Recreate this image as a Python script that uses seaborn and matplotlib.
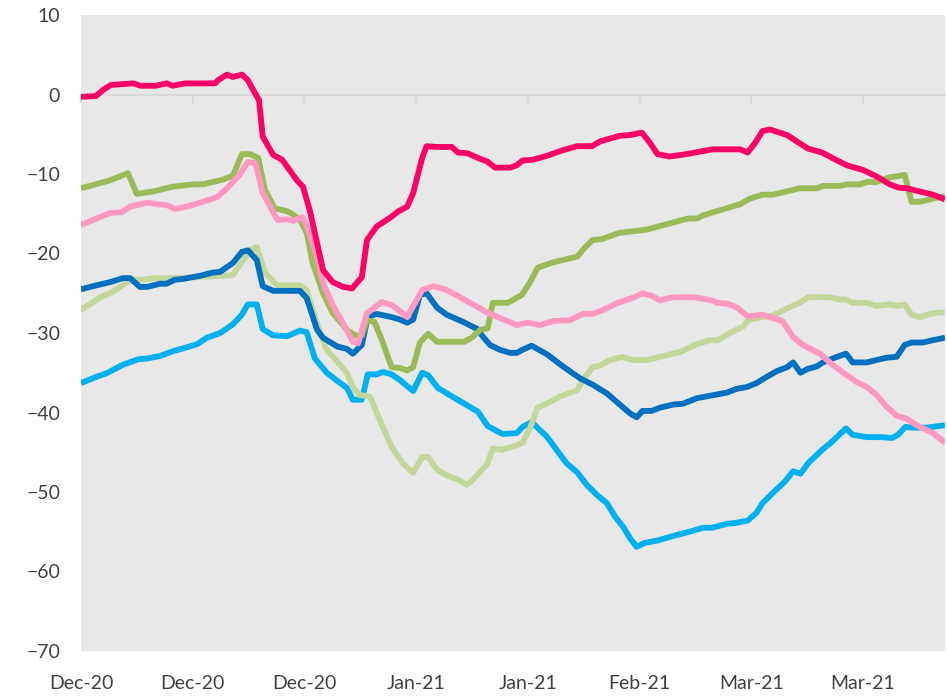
import matplotlib
matplotlib.use("Agg")
import matplotlib.pyplot as plt
import numpy as np
import pandas as pd
import seaborn as sns

# days counted from 1 Dec 2020
mag_days = [0, 2, 3, 4, 7, 8, 10, 11.5, 12.3, 14, 18, 18.4, 19.6, 20.4, 21.6, 22.4, 23.1, 23.9, 24.4, 25.8,
            27, 28, 29, 29.8, 30.7, 31.7, 32.5, 33.8, 35.2, 36.4, 37.2, 37.7, 38.4, 39.7, 41.5, 42.6, 43.8, 44.6,
            45.8, 46.4, 47.8, 49.8, 50.6, 51.9, 53.6, 54.5, 55.6, 57.6, 58.5, 59.3, 60.7, 62.6, 64.7, 66.6, 68.6,
            69.7, 72.3, 73.7, 75.3, 76.4, 77.4, 79, 81.3, 83, 84.8, 88.5, 89.5, 90.5, 91.5, 92.5, 94.8, 96.1,
            97.6, 99.5, 100.9, 102.8, 105, 106.8, 108.6, 109.7, 110.9, 112.6, 114.4, 116]
mag_vals = [-0.3, -0.2, 0.6, 1.2, 1.4, 1.1, 1.1, 1.4, 1.1, 1.4, 1.4, 1.8, 2.5, 2.2, 2.5, 1.8, 0.6, -0.7, -5.3, -7.6,
            -8.2, -9.5, -10.8, -11.6, -14.5, -18.7, -22.1, -23.6, -24.2, -24.4, -23.5, -23.0, -18.3, -16.6, -15.5,
            -14.7, -14.1, -12.4, -8.0, -6.5, -6.6, -6.6, -7.3, -7.4, -8.1, -8.4, -9.2, -9.2, -8.9, -8.3, -8.2, -7.7,
            -7.0, -6.5, -6.5, -5.9, -5.2, -5.1, -4.8, -6.1, -7.5, -7.8, -7.5, -7.2, -6.9, -6.9, -7.3, -6.1, -4.6,
            -4.4, -5.1, -5.9, -6.8, -7.3, -8.0, -8.9, -9.5, -10.3, -11.3, -11.7, -11.8, -12.2, -12.6, -13.2]

grn_days = [0, 3.9, 6.3, 7.5, 8.9, 9.7, 12.3, 15, 16.4, 17.7, 19.1, 20.4, 21.6, 22.7, 23.8, 24.7, 26, 27.7, 28.5,
            29.4, 30.3, 31.1, 32.5, 33.8, 35.7, 36.8, 37.7, 38.4, 39.4, 40.4, 41.7, 42.8, 43.8, 44.6, 45.5, 46.6,
            47.8, 51.5, 52.6, 53.6, 54.6, 55.3, 57.3, 59.2, 60.3, 61.3, 63.4, 66.6, 67.7, 68.7, 69.9, 72.3, 75.9,
            78.7, 81.5, 82.7, 83.5, 88.5, 89.8, 91.5, 92.9, 93.8, 96.5, 98.8, 99.6, 101.9, 102.8, 104.6, 105.5,
            106.8, 108.6, 109.5, 110.6, 111.5, 112.6, 114.4, 116]
grn_vals = [-11.8, -10.8, -9.9, -12.5, -12.3, -12.2, -11.6, -11.3, -11.3, -11.0, -10.7, -10.2, -7.5, -7.5, -8.0,
            -12.0, -14.3, -14.7, -15.1, -15.8, -17.4, -21.2, -25.0, -27.5, -29.6, -30.3, -30.3, -28.4, -28.6,
            -30.9, -34.3, -34.4, -34.7, -34.3, -31.2, -30.1, -31.1, -31.1, -30.5, -29.6, -29.4, -26.2, -26.2,
            -25.2, -23.6, -21.8, -21.1, -20.4, -19.2, -18.3, -18.2, -17.4, -17.0, -16.3, -15.6, -15.6, -15.2,
            -13.8, -13.1, -12.6, -12.6, -12.4, -11.8, -11.8, -11.5, -11.5, -11.3, -11.3, -11.0, -11.0, -10.4,
            -10.3, -10.1, -13.5, -13.5, -13.1, -12.8]

pnk_days = [0, 2.1, 3.9, 5.5, 6.6, 8.9, 10.2, 11.5, 12.6, 14.2, 16, 18.3, 19.6, 21.3, 22.4, 23.4, 24.4, 26.4,
            27.7, 28.5, 29.7, 30.5, 31.7, 32.5, 33.8, 35.2, 36.5, 37.2, 38.4, 40.4, 41.7, 42.6, 43.8, 45.8, 47.3,
            49.1, 50.9, 52.6, 54.5, 56.2, 58.5, 59.9, 61.6, 63.4, 65.6, 67.4, 68.7, 70.1, 72.1, 74, 75.4, 76.6,
            77.7, 79.5, 82.4, 83.5, 84.7, 85.4, 86.7, 88.1, 89.5, 91.5, 94.2, 95.6, 96.9, 99.2, 100.9, 102.8,
            104.2, 105.5, 106.8, 108.2, 109.5, 110.9, 112.2, 114.4, 116]
pnk_vals = [-16.4, -15.6, -14.9, -14.8, -14.1, -13.6, -13.8, -13.9, -14.4, -14.1, -13.6, -12.9, -11.8, -10.1,
            -8.5, -8.6, -12.4, -15.8, -15.7, -15.9, -15.4, -17.0, -20.4, -23.7, -26.5, -28.8, -31.1, -31.3,
            -27.5, -26.1, -26.5, -27.1, -28.0, -24.6, -24.1, -24.6, -25.5, -26.4, -27.4, -28.1, -29.0, -28.7,
            -29.0, -28.5, -28.4, -27.6, -27.6, -27.1, -26.2, -25.6, -25.0, -25.3, -25.9, -25.5, -25.5, -25.7,
            -25.9, -26.2, -26.3, -26.8, -27.9, -27.7, -28.5, -30.5, -31.5, -32.6, -34.0, -35.3, -36.2, -36.8,
            -37.8, -39.3, -40.4, -40.8, -41.6, -42.6, -43.8]

blu_days = [0, 2.1, 3.9, 5.6, 6.6, 7.9, 8.9, 10.6, 11.5, 12.6, 13.7, 16, 17.7, 18.7, 19.6, 20.4, 21.6, 22.4,
            23.6, 24.4, 25.8, 29.4, 30.3, 31.7, 32.5, 34.4, 35.7, 36.5, 37.7, 38.5, 39.7, 41.7, 42.8, 43.8, 44.6,
            45.5, 46.4, 47.8, 49.1, 51.3, 53.2, 54, 54.9, 56.2, 57.6, 58.5, 59.3, 60.5, 62.6, 64.7, 67, 68.7,
            70.6, 72.1, 73.7, 74.6, 75.4, 76.6, 77.7, 79.5, 80.8, 82.7, 84.4, 86.7, 88.1, 89.4, 90.7, 92.1, 93.4,
            94.8, 95.6, 96.6, 97.6, 98.8, 99.6, 101.5, 102.7, 103.6, 105.5, 106.8, 108.2, 109.5, 110.6, 111.5,
            113, 114.4, 116]
blu_vals = [-24.5, -24.0, -23.6, -23.1, -23.1, -24.2, -24.2, -23.8, -23.8, -23.3, -23.2, -22.8, -22.4, -22.3,
            -21.7, -21.2, -19.8, -19.6, -20.8, -24.1, -24.7, -24.7, -25.6, -29.6, -30.6, -31.7, -32.0, -32.6,
            -31.5, -28.0, -27.6, -28.0, -28.3, -28.7, -28.3, -25.2, -25.0, -26.8, -27.7, -28.6, -29.5, -30.5,
            -31.5, -32.1, -32.5, -32.5, -32.1, -31.6, -32.7, -34.2, -35.7, -36.5, -37.6, -38.8, -40.1, -40.6,
            -39.8, -39.8, -39.4, -39.0, -38.9, -38.2, -37.9, -37.5, -37.0, -36.8, -36.3, -35.5, -34.8, -34.3,
            -33.7, -35.0, -34.5, -34.2, -33.7, -33.0, -32.6, -33.7, -33.7, -33.4, -33.1, -33.0, -31.5, -31.2,
            -31.2, -30.9, -30.6]

lgr_days = [0, 2.6, 4.3, 6.2, 7, 8.3, 9.7, 11.9, 15, 16.9, 19.1, 20.4, 21.6, 22.7, 23.6, 24.7, 26.3, 29.4, 30.3,
            31.1, 32.1, 33, 34.4, 35.7, 36.5, 37.4, 38.8, 40.1, 41.7, 43.2, 44.6, 45.8, 46.6, 47.8, 49.1, 50.5,
            51.8, 52.6, 53.6, 54.5, 55.3, 56.5, 58.5, 59.3, 60.3, 61.3, 62.7, 64.3, 66.6, 67.7, 68.7, 69.7, 71,
            72.6, 74.1, 76, 77.7, 80.4, 82.7, 84.4, 85.5, 87.1, 88.9, 89.5, 91.5, 92.9, 94.8, 96.5, 97.6, 100.5,
            101.9, 102.8, 103.6, 105.5, 106.8, 108.6, 109.7, 110.6, 111.5, 112.6, 114.4, 116]
lgr_vals = [-27.1, -25.5, -24.8, -23.6, -23.3, -23.3, -23.1, -23.1, -23.0, -22.9, -22.8, -22.7, -21.1, -19.6,
            -19.2, -22.4, -24.0, -24.0, -24.6, -27.1, -30.0, -32.1, -33.6, -35.0, -36.8, -37.8, -38.0, -40.9,
            -44.3, -46.4, -47.6, -45.6, -45.6, -47.2, -47.9, -48.4, -49.1, -48.5, -47.4, -46.6, -44.5, -44.7,
            -44.1, -43.8, -41.9, -39.4, -38.8, -38.0, -37.2, -35.5, -34.3, -34.1, -33.4, -33.0, -33.4, -33.4,
            -33.0, -32.4, -31.4, -30.9, -30.9, -30.0, -29.2, -28.4, -28.0, -27.8, -26.9, -26.2, -25.5, -25.5,
            -25.8, -25.8, -26.2, -26.2, -26.6, -26.4, -26.6, -26.4, -27.7, -28.0, -27.5, -27.4]

lbl_days = [0, 2.1, 3.6, 5.6, 7.7, 8.9, 10.6, 12.3, 14.2, 15.6, 16.9, 18.7, 20.4, 21.6, 22.4, 23.6, 24.4, 25.8,
            27.7, 29.4, 30.3, 31.4, 33, 34.8, 35.7, 36.5, 37.7, 38.5, 39.7, 40.5, 41.7, 42.8, 43.8, 44.6, 45.8,
            46.6, 47.9, 49.5, 51.3, 53.3, 54.6, 56.6, 58.5, 59.3, 60.5, 62.6, 65.2, 66.6, 67.9, 69.3, 70.6, 71.7,
            72.8, 73.7, 74.6, 75.7, 77.4, 80, 82.1, 83.5, 84.7, 86.7, 87.8, 89.5, 90.7, 91.5, 92.9, 94.5, 95.6,
            96.6, 97.6, 99.5, 100.8, 102.7, 103.6, 105.5, 107.5, 108.9, 109.7, 110.7, 111.5, 113.6, 114.4, 116]
lbl_vals = [-36.3, -35.5, -35.0, -34.0, -33.3, -33.2, -32.9, -32.3, -31.8, -31.4, -30.6, -30.0, -28.9, -27.7,
            -26.4, -26.4, -29.5, -30.3, -30.4, -29.7, -29.9, -33.2, -35.0, -36.3, -36.9, -38.4, -38.4, -35.2,
            -35.2, -34.9, -35.2, -35.9, -36.7, -37.3, -35.0, -35.3, -36.9, -37.8, -38.8, -39.9, -41.7, -42.7,
            -42.6, -41.8, -41.2, -43.1, -46.4, -47.5, -49.1, -50.4, -51.4, -53.1, -54.4, -55.8, -56.9, -56.4,
            -56.1, -55.4, -54.9, -54.5, -54.5, -54.0, -53.9, -53.6, -52.6, -51.4, -50.1, -48.7, -47.4, -47.7,
            -46.4, -44.7, -43.7, -42.0, -42.8, -43.1, -43.1, -43.2, -42.8, -41.8, -41.9, -41.9, -41.8, -41.6]

# drawing order: first listed ends up underneath
series = {
    "s6": (lbl_days, lbl_vals, "#00B0F0"),
    "s5": (lgr_days, lgr_vals, "#C4D79B"),
    "s4": (blu_days, blu_vals, "#0070C0"),
    "s2": (grn_days, grn_vals, "#9BBB59"),
    "s3": (pnk_days, pnk_vals, "#FF99C2"),
    "s1": (mag_days, mag_vals, "#FF0066"),
}

start = pd.Timestamp("2020-12-01")
tick_dates = pd.date_range(start, periods=8, freq="15D")
tick_days = [(d - start).days for d in tick_dates]
tick_labels = [d.strftime("%b-%y") for d in tick_dates]

frames = []
for name, (days, vals, _) in series.items():
    frames.append(pd.DataFrame({"day": days, "value": vals, "series": name}))
df = pd.concat(frames, ignore_index=True)
palette = {k: v[2] for k, v in series.items()}

plt.rcParams["font.family"] = ["Lato", "DejaVu Sans"]
fig = plt.figure(figsize=(9.47, 6.99), dpi=100)
ax = fig.add_axes([81 / 947, 1 - 651 / 699, 864 / 947, 636 / 699])
ax.set_facecolor("#E8E8E8")

sns.lineplot(data=df, x="day", y="value", hue="series", hue_order=list(series.keys()),
             palette=palette, estimator=None, legend=False, linewidth=4.2,
             solid_capstyle="butt", ax=ax)

ax.set_xlim(0, 116)
ax.set_ylim(-70, 10)
ax.set_yticks(np.arange(-70, 11, 10))
ax.set_xticks(tick_days, tick_labels)
ax.set_xlabel("")
ax.set_ylabel("")
for s in ax.spines.values():
    s.set_visible(False)
ax.tick_params(axis="y", length=0, pad=15, labelsize=14, labelcolor="#404040")
ax.tick_params(axis="x", length=0, pad=17, labelsize=14, labelcolor="#404040")

# horizontal axis line with its tick marks sitting at zero
zero = ax.secondary_xaxis(0, transform=ax.transData)
zero.set_xticks(tick_days)
zero.spines["bottom"].set_color("#D9D9D9")
zero.spines["bottom"].set_linewidth(1.5)
zero.tick_params(axis="x", direction="out", length=5.5, width=1.5, color="#D9D9D9", labelbottom=False)

fig.savefig("out.png", dpi=100)
